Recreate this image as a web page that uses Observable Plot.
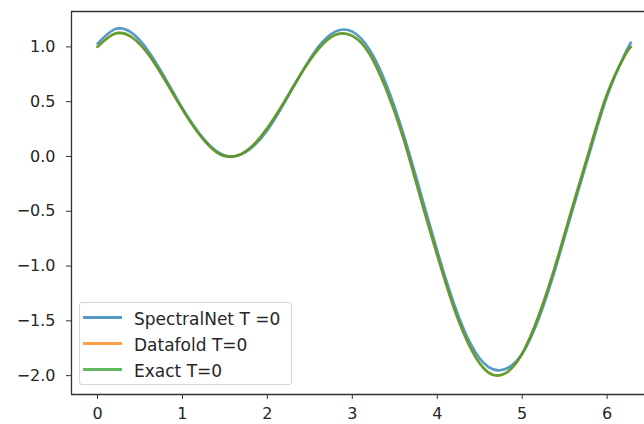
<!DOCTYPE html>
<html><head><meta charset="utf-8">
<script src="https://cdn.jsdelivr.net/npm/d3@7"></script>
<script src="https://cdn.jsdelivr.net/npm/@observablehq/plot@0.6"></script>
<style>
html,body{margin:0;padding:0;background:#fff;overflow:hidden;}
#wrap{position:relative;width:644px;height:424px;}
#legend{position:absolute;left:79px;top:302px;width:213px;height:83px;box-sizing:border-box;border:1px solid #d6d6d6;border-radius:3px;background:rgba(255,255,255,0.8);font-family:"DejaVu Sans",sans-serif;font-size:17px;color:#262626;}
.row{position:absolute;left:0;height:22px;display:flex;align-items:center;white-space:nowrap;}
.sw{display:inline-block;width:39px;height:3px;margin-left:3px;margin-right:12px;position:relative;top:-2px;}
</style></head>
<body><div id="wrap"></div>
<script>
const xs = [0,0.2,0.4,0.6,0.8,1.0,1.2,1.4,1.6,1.8,2.0,2.2,2.4,2.6,2.8,3.0,3.2,3.4,3.6,3.8,4.0,4.2,4.4,4.6,4.8,5.0,5.2,5.4,5.6,5.8,6.0,6.2,6.28];
const spectralNet = [1.03,1.16,1.13,0.96,0.71,0.44,0.21,0.05,0.00,0.07,0.24,0.49,0.76,1.00,1.14,1.14,0.98,0.66,0.21,-0.32,-0.86,-1.35,-1.72,-1.92,-1.94,-1.80,-1.47,-1.00,-0.47,0.05,0.55,0.92,1.04];
const datafold = [1.00,1.12,1.09,0.93,0.69,0.43,0.20,0.04,0.00,0.08,0.26,0.50,0.76,0.98,1.11,1.10,0.94,0.61,0.17,-0.37,-0.90,-1.39,-1.76,-1.97,-1.98,-1.80,-1.44,-0.97,-0.44,0.08,0.57,0.91,1.00];
const exact = [1.00,1.12,1.09,0.93,0.69,0.43,0.20,0.04,0.00,0.08,0.26,0.50,0.76,0.98,1.11,1.10,0.94,0.61,0.17,-0.37,-0.90,-1.39,-1.76,-1.97,-1.98,-1.80,-1.44,-0.97,-0.44,0.08,0.57,0.91,1.00];
const seriesNames = ["SpectralNet T =0","Datafold T=0","Exact T=0"];
const seriesColors = ["#1f77b4","#ff7f0e","#2ca02c"];
const xTicks = [0,1,2,3,4,5,6];
const yTicks = [-2.0,-1.5,-1.0,-0.5,0.0,0.5,1.0];

const all = [spectralNet, datafold, exact];
const data = [];
all.forEach((arr, s) => arr.forEach((v, i) => data.push({x: xs[i], y: v, s: seriesNames[s]})));

const fmt = d => (d < 0 ? "\u2212" : "") + Math.abs(d).toFixed(1);

const chart = Plot.plot({
  width: 644, height: 424,
  marginLeft: 71, marginRight: 0, marginTop: 11, marginBottom: 30,
  style: {fontFamily: "DejaVu Sans, sans-serif", fontSize: "16px", color: "#262626", background: "#fff"},
  x: {domain: [-0.306, 6.44], label: null},
  y: {domain: [-2.172, 1.323], label: null},
  color: {domain: seriesNames, range: seriesColors},
  marks: [
    Plot.axisX({ticks: xTicks, tickSize: 5, tickPadding: 8, tickFormat: d => String(d), label: null, fontSize: 16, stroke: "#333"}),
    Plot.axisY({ticks: yTicks, tickSize: 5, tickPadding: 11, tickFormat: fmt, label: null, fontSize: 16, stroke: "#333"}),
    Plot.line(data, {x: "x", y: "y", z: "s", stroke: "s", strokeWidth: 2.6, strokeOpacity: 0.75, curve: "natural"}),
    Plot.ruleX([-0.306], {stroke: "#333", strokeWidth: 1.3}),
    Plot.ruleY([-2.172], {stroke: "#333", strokeWidth: 1.3}),
    Plot.ruleY([1.323], {stroke: "#333", strokeWidth: 1.3})
  ]
});
const wrap = document.getElementById("wrap");
wrap.appendChild(chart);

const lg = document.createElement("div");
lg.id = "legend";
seriesNames.forEach((n, i) => {
  const r = document.createElement("div");
  r.className = "row";
  r.style.top = (5 + i * 26) + "px";
  const sw = document.createElement("span");
  sw.className = "sw";
  sw.style.background = seriesColors[i];
  sw.style.opacity = 0.75;
  const t = document.createElement("span");
  t.textContent = n;
  r.appendChild(sw); r.appendChild(t);
  lg.appendChild(r);
});
wrap.appendChild(lg);
</script>
</body></html>
